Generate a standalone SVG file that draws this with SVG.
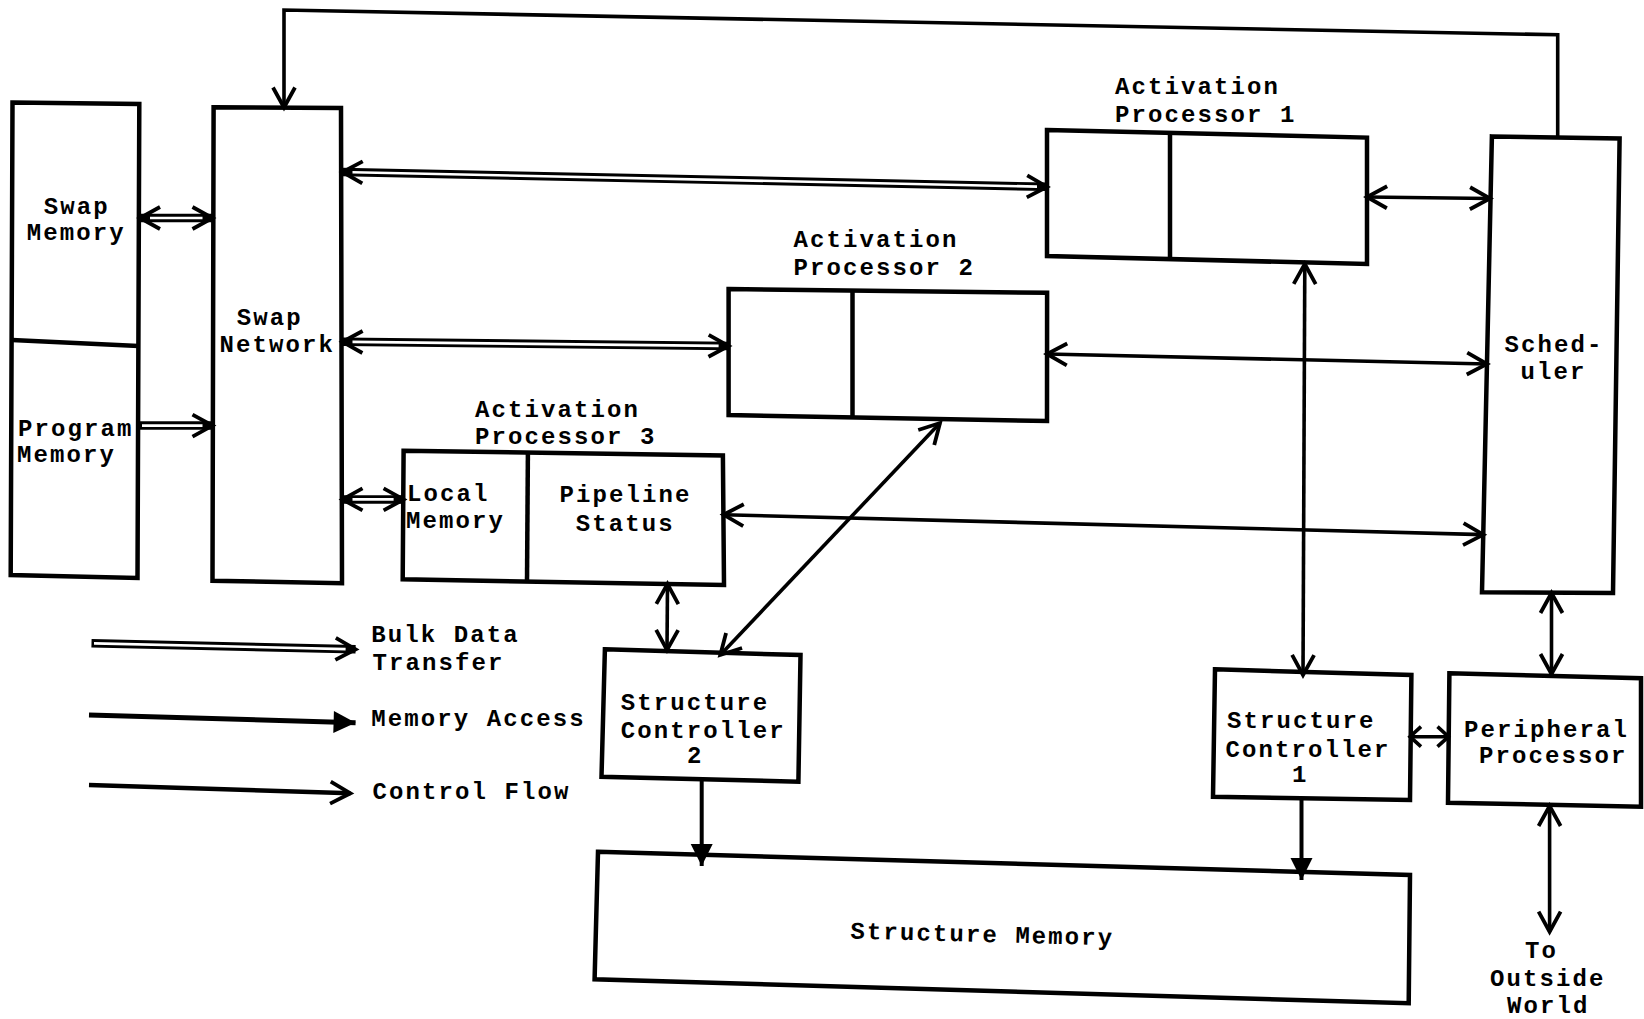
<svg xmlns="http://www.w3.org/2000/svg" width="1644" height="1019" viewBox="0 0 1644 1019">
  <defs>
    <style>
      .box { fill: none; stroke: #000; stroke-width: 4.5; stroke-linejoin: miter; }
      .div { fill: none; stroke: #000; stroke-width: 4.5; }
      .lbl { font-family: "Liberation Mono", "DejaVu Sans Mono", monospace; font-weight: bold; font-size: 24px; letter-spacing: 2.1px; fill: #000; }
      .bulk-outer { fill: none; stroke: #000; stroke-width: 8.5; }
      .bulk-inner { fill: none; stroke: #fff; stroke-width: 2.6; }
      .ctrl { fill: none; stroke: #000; stroke-width: 3.6; stroke-linejoin: miter; }
      .mem { fill: none; stroke: #000; stroke-width: 4; }
    </style>
    <!-- open chevron head used by bulk-data and control-flow links -->
    <marker id="chev" markerUnits="userSpaceOnUse" viewBox="-24 -14 28 28" markerWidth="28" markerHeight="28" refX="0" refY="0" orient="auto-start-reverse" overflow="visible">
      <path d="M-20,-11 L0,0 L-20,11" fill="none" stroke="#000" stroke-width="3.8" stroke-linejoin="miter"/>
    </marker>
    <!-- shorter chevron for the tight link between controller 1 and the peripheral processor -->
    <marker id="chev-sm" markerUnits="userSpaceOnUse" viewBox="-16 -12 20 24" markerWidth="20" markerHeight="24" refX="0" refY="0" orient="auto-start-reverse" overflow="visible">
      <path d="M-11,-10 L0,0 L-11,10" fill="none" stroke="#000" stroke-width="3.6" stroke-linejoin="miter"/>
    </marker>
    <!-- solid head used by memory-access links -->
    <marker id="solid" markerUnits="userSpaceOnUse" viewBox="-24 -14 28 28" markerWidth="28" markerHeight="28" refX="0" refY="0" orient="auto" overflow="visible">
      <path d="M-22,-11 L0,0 L-22,11 Z" fill="#000"/>
    </marker>
  </defs>

  <rect x="0" y="0" width="1644" height="1019" fill="#fff"/>

  <g id="connectors">
    <!-- bulk data transfer (double lines) -->
    <path class="bulk-outer" d="M140,218 L212.5,218" marker-start="url(#chev)" marker-end="url(#chev)"/>
    <path class="bulk-inner" d="M150,218 L202.5,218"/>
    <path class="bulk-outer" d="M140,425.6 L212.5,425.6" marker-end="url(#chev)"/>
    <path class="bulk-inner" d="M142,425.6 L202.5,425.6"/>
    <path class="bulk-outer" d="M342.5,172 L1047,186.8" marker-start="url(#chev)" marker-end="url(#chev)"/>
    <path class="bulk-inner" d="M352.5,172.2 L1037,186.6"/>
    <path class="bulk-outer" d="M342.5,341.8 L728.6,346" marker-start="url(#chev)" marker-end="url(#chev)"/>
    <path class="bulk-inner" d="M352.5,341.9 L718.6,345.9"/>
    <path class="bulk-outer" d="M342.5,499.4 L403.6,499.4" marker-start="url(#chev)" marker-end="url(#chev)"/>
    <path class="bulk-inner" d="M352.5,499.4 L393.6,499.4"/>

    <!-- control flow -->
    <path class="ctrl" d="M1557.7,136.4 L1557.7,34.8 L284,10 L284,107.5" marker-end="url(#chev)"/>
    <path class="ctrl" d="M1367,197 L1490,198.5" marker-start="url(#chev)" marker-end="url(#chev)"/>
    <path class="ctrl" d="M1047,354 L1487,364" marker-start="url(#chev)" marker-end="url(#chev)"/>
    <path class="ctrl" d="M723.5,514.7 L1483.3,534.6" marker-start="url(#chev)" marker-end="url(#chev)"/>
    <path class="ctrl" d="M1304.8,264 L1303,675" marker-start="url(#chev)" marker-end="url(#chev)"/>
    <path class="ctrl" d="M667.5,584 L667,650" marker-start="url(#chev)" marker-end="url(#chev)"/>
    <path class="ctrl" d="M940,423 L720.3,655" marker-start="url(#chev)" marker-end="url(#chev)"/>
    <path class="ctrl" d="M1410,736.7 L1448.5,736.7" marker-start="url(#chev-sm)" marker-end="url(#chev-sm)"/>
    <path class="ctrl" d="M1551.5,593 L1551.5,674" marker-start="url(#chev)" marker-end="url(#chev)"/>
    <path class="ctrl" d="M1549.6,806 L1549.6,931.7" marker-start="url(#chev)" marker-end="url(#chev)"/>

    <!-- memory access -->
    <path class="mem" d="M701.7,781 L701.7,866" marker-end="url(#solid)"/>
    <path class="mem" d="M1301.5,800 L1301.5,880" marker-end="url(#solid)"/>
  </g>

  <g id="swap-memory">
    <polygon class="box" points="12.5,102.6 139.3,104 137.5,578 10.7,575"/>
    <line class="div" x1="12" y1="340" x2="138.5" y2="346"/>
    <text class="lbl" x="43.8" y="214">Swap</text>
    <text class="lbl" x="26.8" y="240">Memory</text>
  </g>
  <g id="program-memory">
    <text class="lbl" x="17.9" y="435.5">Program</text>
    <text class="lbl" x="17" y="462">Memory</text>
  </g>

  <g id="swap-network">
    <polygon class="box" points="213.6,107.2 341,107.9 342,583.3 212.5,580.7"/>
    <text class="lbl" x="236.8" y="325">Swap</text>
    <text class="lbl" x="219.6" y="352">Network</text>
  </g>

  <g id="activation-processor-1">
    <polygon class="box" points="1047,130 1367,137.6 1367,264 1047,256"/>
    <line class="div" x1="1170" y1="132.9" x2="1170" y2="259"/>
    <text class="lbl" x="1114.9" y="94">Activation</text>
    <text class="lbl" x="1114.9" y="121.8">Processor 1</text>
  </g>

  <g id="activation-processor-2">
    <polygon class="box" points="728.6,289 1047.1,292.8 1047,421 728.6,415"/>
    <line class="div" x1="852.5" y1="290.5" x2="852.5" y2="417.4"/>
    <text class="lbl" x="793.6" y="246.8">Activation</text>
    <text class="lbl" x="793.6" y="274.8">Processor 2</text>
  </g>

  <g id="activation-processor-3">
    <polygon class="box" points="403.6,450.8 722.9,455.4 724,585 402.7,579.3"/>
    <line class="div" x1="527.9" y1="452.6" x2="527" y2="581.3"/>
    <text class="lbl" x="475" y="417">Activation</text>
    <text class="lbl" x="475" y="444">Processor 3</text>
    <text class="lbl" x="407" y="500.6">Local</text>
    <text class="lbl" x="406" y="528">Memory</text>
    <text class="lbl" x="559.6" y="502">Pipeline</text>
    <text class="lbl" x="575.7" y="531">Status</text>
  </g>

  <g id="scheduler">
    <polygon class="box" points="1491.9,136.4 1619.6,138.4 1613,593 1482,592.3"/>
    <text class="lbl" x="1504.5" y="352">Sched-</text>
    <text class="lbl" x="1520.6" y="379">uler</text>
  </g>

  <g id="structure-controller-2">
    <polygon class="box" points="604.9,649.3 800.5,655 798.4,781.7 601.5,776.7"/>
    <text class="lbl" x="620.8" y="710">Structure</text>
    <text class="lbl" x="620.8" y="738">Controller</text>
    <text class="lbl" x="687" y="763">2</text>
  </g>

  <g id="structure-controller-1">
    <polygon class="box" points="1215,669.3 1411.4,675 1410,800 1213,796.7"/>
    <text class="lbl" x="1227" y="728">Structure</text>
    <text class="lbl" x="1225.5" y="756.7">Controller</text>
    <text class="lbl" x="1292" y="781.7">1</text>
  </g>

  <g id="peripheral-processor">
    <polygon class="box" points="1449.4,673.3 1641,678.3 1641,806.7 1448,802.7"/>
    <text class="lbl" x="1464" y="736.7">Peripheral</text>
    <text class="lbl" x="1479" y="763.3">Processor</text>
  </g>

  <g id="structure-memory">
    <polygon class="box" points="598,851.7 1410,875 1408.7,1003.3 594.6,979.3"/>
    <text class="lbl" x="850.3" y="942" transform="rotate(1.5 984 935)">Structure Memory</text>
  </g>

  <g id="outside-world">
    <text class="lbl" x="1525" y="958">To</text>
    <text class="lbl" x="1490" y="985.5">Outside</text>
    <text class="lbl" x="1507" y="1012.5">World</text>
  </g>

  <g id="legend">
    <path class="bulk-outer" d="M91.5,643.3 L355.6,649.3" marker-end="url(#chev)"/>
    <path class="bulk-inner" d="M94,643.4 L345.6,649.1"/>
    <text class="lbl" x="371.3" y="641.7">Bulk Data</text>
    <text class="lbl" x="372.4" y="670">Transfer</text>
    <path class="mem" style="stroke-width:5" d="M89,715 L355.6,722.7" marker-end="url(#solid)"/>
    <text class="lbl" x="371.3" y="726">Memory Access</text>
    <path class="ctrl" style="stroke-width:4.4" d="M89,785 L350.4,793.3" marker-end="url(#chev)"/>
    <text class="lbl" x="372.4" y="799.3">Control Flow</text>
  </g>
</svg>
